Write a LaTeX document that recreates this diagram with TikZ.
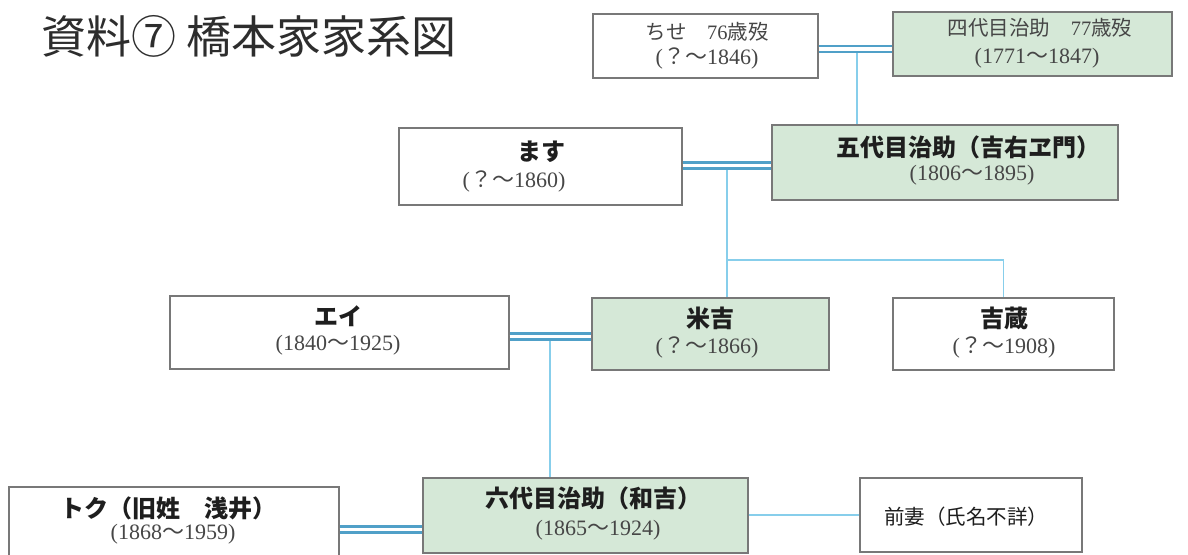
\documentclass[tikz,border=0pt]{standalone}
\usepackage{fontspec}
\setmainfont{Liberation Serif}
\newfontfamily\cjk{Noto Sans CJK JP}
\definecolor{boxgray}{RGB}{120,120,120}
\definecolor{boxgreen}{RGB}{213,232,215}
\definecolor{dblblue}{RGB}{80,160,200}
\definecolor{lineblue}{RGB}{135,206,235}
\definecolor{namecol}{RGB}{30,30,30}
\definecolor{datecol}{RGB}{70,70,70}
\definecolor{titlecol}{RGB}{45,45,45}
\tikzset{
  pbox/.style={draw=boxgray, line width=1.3pt, inner sep=0pt},
  wbox/.style={pbox, fill=white},
  gbox/.style={pbox, fill=boxgreen},
  dbl/.style={draw=dblblue, line width=2.5pt, double=white, double distance=3.8pt},
  sline/.style={draw=lineblue, line width=1.5pt},
  nm/.style={font=\cjk\bfseries\fontsize{24}{24}\selectfont, text=namecol, inner sep=0pt},
  dt/.style={font=\fontsize{22}{22}\selectfont, text=datecol, inner sep=0pt},
  lt/.style={font=\cjk\fontsize{20.5}{20.5}\selectfont, text=datecol, inner sep=0pt},
}
\begin{document}
\begin{tikzpicture}[x=1pt, y=-1pt]
\useasboundingbox (0,0) rectangle (1188,554);
\fill[white] (0,0) rectangle (1188,554);
\clip (0,0) rectangle (1188,554);

% title
\node[anchor=west, font=\cjk\fontsize{45}{45}\selectfont, text=titlecol, inner sep=0pt] (title) at (41,36) {資料⑦ 橋本家家系図};

% boxes
\node[wbox, minimum width=225pt, minimum height=64pt] (chise) at (705.5,46) {};
\node[gbox, minimum width=279pt, minimum height=64pt] (yon) at (1032.5,44) {};
\node[wbox, minimum width=283pt, minimum height=77pt] (masu) at (540.5,166.5) {};
\node[gbox, minimum width=346pt, minimum height=75pt] (gogo) at (945,162.5) {};
\node[wbox, minimum width=339pt, minimum height=73pt] (ei) at (339.5,332.5) {};
\node[gbox, minimum width=237pt, minimum height=72pt] (yone) at (710.5,334) {};
\node[wbox, minimum width=221pt, minimum height=72pt] (kichi) at (1003.5,334) {};
\node[wbox, minimum width=330pt, minimum height=74pt] (toku) at (174,524) {};
\node[gbox, minimum width=325pt, minimum height=75pt] (roku) at (585.5,515.5) {};
\node[wbox, minimum width=222pt, minimum height=74pt] (zen) at (971,515) {};

% texts
\node[lt] (chise-a) at (707,32) {ちせ　{\rmfamily 76}歳歿};
\node[dt] (chise-b) at (707,58) {({\cjk ？～}1846)};
\node[lt] (yon-a) at (1040,28) {四代目治助　{\rmfamily 77}歳歿};
\node[dt] (yon-b) at (1037,58) {(1771{\cjk ～}1847)};
\node[nm] (masu-a) at (541,152) {ます};
\node[dt] (masu-b) at (514,181) {({\cjk ？～}1860)};
\node[nm] (gogo-a) at (968,147) {五代目治助（吉右ヱ門）};
\node[dt] (gogo-b) at (972,175) {(1806{\cjk ～}1895)};
\node[nm] (ei-a) at (338,316) {エイ};
\node[dt] (ei-b) at (338,345) {(1840{\cjk ～}1925)};
\node[nm] (yone-a) at (710,318) {米吉};
\node[dt] (yone-b) at (707,347) {({\cjk ？～}1866)};
\node[nm] (kichi-a) at (1004,318) {吉蔵};
\node[dt] (kichi-b) at (1004,347) {({\cjk ？～}1908)};
\node[nm] (toku-a) at (168,508) {トク（旧姓　浅井）};
\node[dt] (toku-b) at (173,534) {(1868{\cjk ～}1959)};
\node[nm] (roku-a) at (593,498) {六代目治助（和吉）};
\node[dt] (roku-b) at (598,530) {(1865{\cjk ～}1924)};
\node[lt, text=namecol, font=\cjk\fontsize{20.5}{20.5}\selectfont] (zen-a) at (966,517) {前妻（氏名不詳）};

% connectors
\coordinate (m1) at (857,49);
\coordinate (m2) at (727,165.5);
\coordinate (j2) at (727,260);
\coordinate (m3) at (550,336.5);
\coordinate (m4) at (381,529.5);
\coordinate (s4) at (800,515);

\draw[sline] (m1) -- (m1 |- gogo.north);
\draw[dbl] (chise.east |- m1) -- (yon.west |- m1);

\draw[sline] (m2) -- (j2) -| (kichi.north);
\draw[sline] (j2) -- (j2 |- yone.north);
\draw[dbl] (masu.east |- m2) -- (gogo.west |- m2);

\draw[sline] (m3) -- (m3 |- roku.north);
\draw[dbl] (ei.east |- m3) -- (yone.west |- m3);

\draw[dbl] (toku.east |- m4) -- (roku.west |- m4);
\draw[sline] (roku.east |- s4) -- (zen.west |- s4);
\end{tikzpicture}
\end{document}
